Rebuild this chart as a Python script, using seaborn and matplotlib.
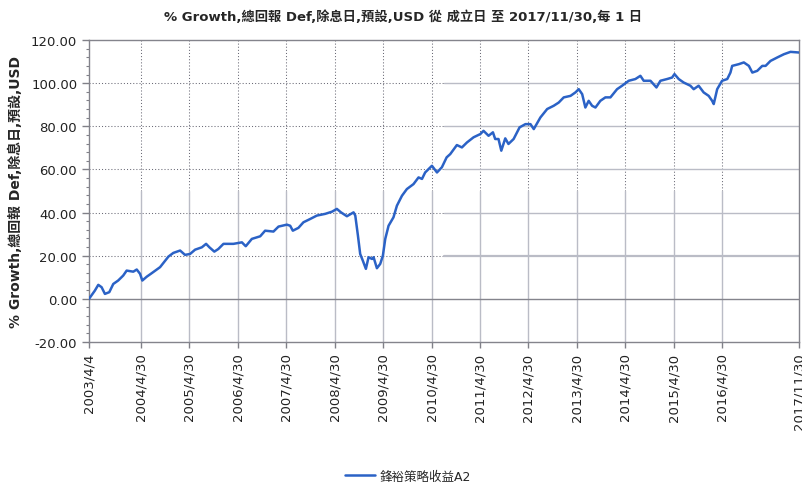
import pandas as pd
import matplotlib.pyplot as plt
from matplotlib.ticker import MultipleLocator, FormatStrFormatter
import seaborn as sns

# values
dates = [
    "2003-04-04", "2003-05-18", "2003-06-13", "2003-07-08", "2003-08-02", "2003-09-04",
    "2003-10-04", "2003-11-10", "2003-12-18", "2004-01-13", "2004-03-03", "2004-03-29",
    "2004-04-23", "2004-05-10", "2004-06-13", "2004-07-20", "2004-09-21", "2004-11-23",
    "2004-12-30", "2005-02-19", "2005-03-28", "2005-05-05", "2005-06-12", "2005-08-02",
    "2005-09-03", "2005-09-28", "2005-11-04", "2005-12-04", "2006-01-12", "2006-03-28",
    "2006-05-31", "2006-06-29", "2006-08-14", "2006-10-16", "2006-11-22", "2007-01-24",
    "2007-03-03", "2007-05-05", "2007-05-30", "2007-06-19", "2007-07-31", "2007-09-07",
    "2007-10-27", "2007-12-17", "2008-02-18", "2008-04-09", "2008-05-16", "2008-06-16",
    "2008-07-31", "2008-09-19", "2008-10-02", "2008-10-22", "2008-11-08", "2008-11-28",
    "2008-12-21", "2009-01-10", "2009-02-05", "2009-02-17", "2009-03-14", "2009-04-08",
    "2009-04-28", "2009-05-16", "2009-06-10", "2009-07-17", "2009-08-12", "2009-09-19",
    "2009-10-26", "2009-12-15", "2010-01-22", "2010-02-17", "2010-03-13", "2010-05-03",
    "2010-06-10", "2010-07-17", "2010-08-22", "2010-09-18", "2010-11-07", "2010-12-15",
    "2011-01-22", "2011-03-13", "2011-05-03", "2011-05-27", "2011-07-04", "2011-08-06",
    "2011-08-23", "2011-09-17", "2011-10-08", "2011-11-07", "2011-12-01", "2012-01-09",
    "2012-02-23", "2012-04-07", "2012-05-15", "2012-06-09", "2012-07-29", "2012-09-18",
    "2012-11-06", "2012-12-14", "2013-01-21", "2013-03-13", "2013-04-19", "2013-05-14",
    "2013-06-09", "2013-07-03", "2013-07-28", "2013-08-23", "2013-09-17", "2013-10-24",
    "2013-12-01", "2014-01-08", "2014-02-27", "2014-04-06", "2014-05-26", "2014-07-15",
    "2014-08-22", "2014-09-16", "2014-11-06", "2014-12-21", "2015-01-20", "2015-03-11",
    "2015-04-18", "2015-05-06", "2015-06-07", "2015-07-14", "2015-09-03", "2015-09-28",
    "2015-11-04", "2015-12-12", "2016-01-19", "2016-02-14", "2016-02-26", "2016-03-23",
    "2016-04-29", "2016-06-07", "2016-07-01", "2016-07-14", "2016-09-02", "2016-10-10",
    "2016-11-17", "2016-12-13", "2017-01-19", "2017-02-26", "2017-03-23", "2017-04-29",
    "2017-06-19", "2017-08-08", "2017-09-27", "2017-11-30",
]
growth = [
    0.0, 3.8, 6.5, 5.4, 2.3, 3.1,
    6.9, 8.5, 10.8, 13.1, 12.6, 13.6,
    11.6, 8.5, 10.3, 11.9, 14.7, 19.6,
    21.3, 22.4, 20.4, 20.8, 22.8, 23.9,
    25.5, 23.9, 21.9, 23.1, 25.5, 25.5,
    26.2, 24.4, 27.8, 29.0, 31.6, 31.2,
    33.5, 34.4, 33.9, 31.6, 32.9, 35.5,
    37.0, 38.6, 39.4, 40.4, 41.7, 40.1,
    38.3, 40.1, 38.6, 29.3, 20.8, 17.7,
    13.9, 19.3, 18.5, 19.3, 14.2, 16.2,
    20.0, 27.8, 33.9, 37.8, 43.2, 47.8,
    50.9, 53.2, 56.3, 55.6, 58.6, 61.7,
    58.6, 61.0, 65.6, 67.1, 71.3, 70.2,
    72.5, 74.9, 76.4, 77.9, 75.6, 77.2,
    74.1, 74.1, 68.7, 74.4, 71.8, 74.1,
    79.5, 81.0, 81.0, 78.7, 84.1, 88.0,
    89.5, 91.0, 93.4, 94.1, 95.7, 97.2,
    94.9, 88.7, 91.8, 89.5, 88.7, 91.8,
    93.4, 93.4, 97.2, 98.8, 101.1, 101.9,
    103.4, 101.1, 101.1, 98.0, 101.1, 101.9,
    102.6, 104.2, 101.9, 100.3, 98.8, 97.2,
    98.8, 95.7, 94.1, 91.8, 90.3, 97.2,
    101.1, 101.9, 104.9, 108.0, 108.8, 109.6,
    108.0, 104.9, 105.7, 108.0, 108.0, 110.3,
    111.9, 113.4, 114.5, 114.2,
]
tick_dates = ["2003-04-04", "2004-04-30", "2005-04-30", "2006-04-30", "2007-04-30",
              "2008-04-30", "2009-04-30", "2010-04-30", "2011-04-30", "2012-04-30",
              "2013-04-30", "2014-04-30", "2015-04-30", "2016-04-30", "2017-11-30"]
tick_labels = ["2003/4/4", "2004/4/30", "2005/4/30", "2006/4/30", "2007/4/30",
               "2008/4/30", "2009/4/30", "2010/4/30", "2011/4/30", "2012/4/30",
               "2013/4/30", "2014/4/30", "2015/4/30", "2016/4/30", "2017/11/30"]
series_name = "鋒裕策略收益A2"
title = "% Growth,總回報 Def,除息日,預設,USD 從 成立日 至 2017/11/30,每 1 日"
ylabel = "% Growth,總回報 Def,除息日,預設,USD"

df = pd.DataFrame({"date": pd.to_datetime(dates), "growth": growth})
ticks = pd.to_datetime(tick_dates)

sns.set_style("white")
plt.rcParams['font.family'] = ['DejaVu Sans', 'Noto Sans CJK TC']

fig = plt.figure(figsize=(8.02, 4.85), dpi=100)
ax = fig.add_axes([89 / 802, 1 - 343 / 485, 710 / 802, 302 / 485])

dot_c = "#6a6a76"
solid_c = "#babcc6"
# quirky grid of the original: dotted in one half, solid in the other
for t in ticks[1:-1]:
    ax.axvline(t, ymin=0.5, ymax=1, color=dot_c, lw=0.75, ls=(0, (1, 2)), zorder=1)
    ax.axvline(t, ymin=0, ymax=0.5, color=solid_c, lw=1.0, zorder=1)
for v in [20, 40, 60, 80, 100]:
    ax.axhline(v, xmin=0, xmax=0.5, color=dot_c, lw=0.75, ls=(0, (1, 2)), zorder=1)
    ax.axhline(v, xmin=0.5, xmax=1, color=solid_c, lw=1.6 if v == 20 else 1.0, zorder=1)
ax.axhline(0, color="#84848c", lw=1.0, zorder=1)

sns.lineplot(data=df, x="date", y="growth", ax=ax, color="#2b62c6", lw=1.8,
             label=series_name, zorder=3)

ax.set_xlim(ticks[0], ticks[-1])
ax.set_ylim(-20, 120)
ax.yaxis.set_major_locator(MultipleLocator(20))
ax.yaxis.set_minor_locator(MultipleLocator(4))
ax.yaxis.set_major_formatter(FormatStrFormatter("%.2f"))
ax.set_xticks(ticks)
ax.set_xticklabels(tick_labels, rotation=90, fontsize=9.5, color="#222222")
ax.tick_params(axis="y", which="major", length=5, width=1, color="#808088",
               labelsize=9.5, labelcolor="#222222", left=True, direction="out")
ax.tick_params(axis="y", which="minor", length=2.5, width=0.8, color="#808088", left=True)
ax.tick_params(axis="x", which="major", length=4, width=1, color="#808088",
               bottom=True, direction="out")
for s in ax.spines.values():
    s.set_color("#84848c")
    s.set_linewidth(1.0)

ax.set_xlabel("")
ax.set_ylabel(ylabel, fontsize=10, fontweight="bold")
ax.yaxis.set_label_coords(-0.093, 0.5)

fig.text(0.502, 0.965, title, ha="center", va="center", fontsize=9.5, fontweight="bold")

ax.legend(loc="center", bbox_to_anchor=(408 / 802, 0.016), bbox_transform=fig.transFigure,
          frameon=False, fontsize=9, handlelength=2.4, handletextpad=0.4)

fig.savefig("out.png", dpi=100)
